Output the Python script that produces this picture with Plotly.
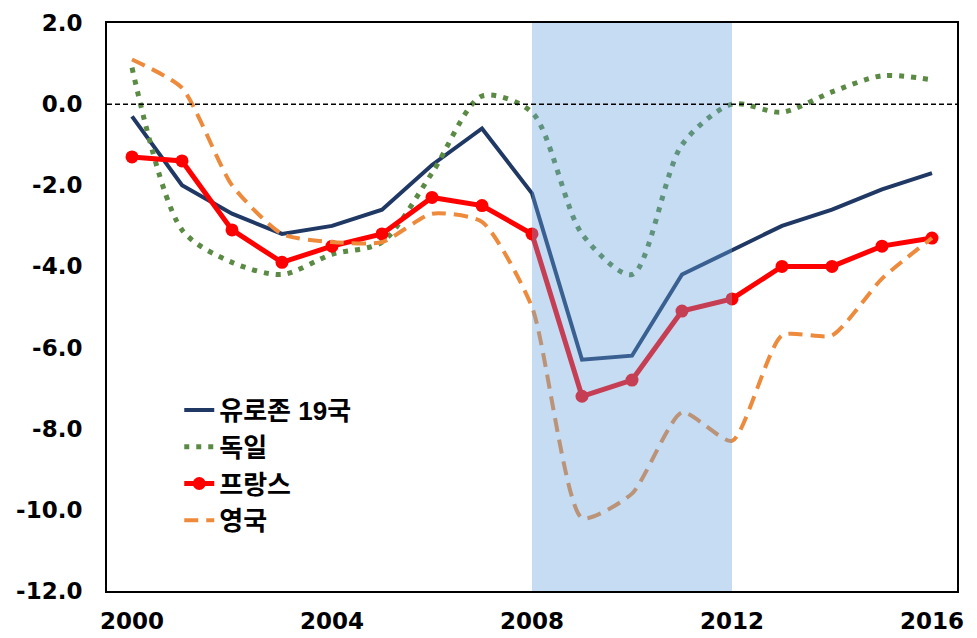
import plotly.graph_objects as go

# ── DATA ──────────────────────────────────────────────────────────────
years = list(range(2000, 2017))

eurozone = [-0.3, -2.0, -2.7, -3.2, -3.0, -2.6, -1.5, -0.6, -2.2,
            -6.3, -6.2, -4.2, -3.6, -3.0, -2.6, -2.1, -1.7]
germany = [0.9, -3.1, -3.9, -4.2, -3.7, -3.4, -1.7, 0.2, -0.2,
           -3.2, -4.2, -1.0, 0.0, -0.2, 0.3, 0.7, 0.6]
france = [-1.3, -1.4, -3.1, -3.9, -3.5, -3.2, -2.3, -2.5, -3.2,
          -7.2, -6.8, -5.1, -4.8, -4.0, -4.0, -3.5, -3.3]
uk = [1.1, 0.4, -2.0, -3.2, -3.4, -3.4, -2.7, -2.9, -5.0,
      -10.2, -9.6, -7.6, -8.3, -5.7, -5.7, -4.3, -3.3]

x_ticks = [2000, 2004, 2008, 2012, 2016]
y_ticks = [2, 0, -2, -4, -6, -8, -10, -12]
y_ticktext = ["2.0", "0.0", "-2.0", "-4.0", "-6.0", "-8.0", "-10.0", "-12.0"]
crisis = (2008, 2012)

# ── COLORS ────────────────────────────────────────────────────────────
COLORS = {
    "euro":    "#1f3864",
    "germany": "#5b8a45",
    "france":  "#ff0000",
    "uk":      "#ee8a3c",
    "shade":   "#67a3dd",
}

TICK_FONT = "'DejaVu Sans', 'Noto Sans CJK KR', sans-serif"
FONT = "Arial, 'Liberation Sans', 'Noto Sans CJK KR', sans-serif"

fig = go.Figure()

fig.add_trace(go.Scatter(
    x=years, y=eurozone, name="유로존 19국", mode="lines",
    line=dict(color=COLORS["euro"], width=4), legendgroup="a",
))
fig.add_trace(go.Scatter(
    x=years, y=germany, name="독일", mode="lines",
    line=dict(color=COLORS["germany"], width=5, dash="5px,7px", shape="spline", smoothing=0.8),
    legendgroup="b",
))
fig.add_trace(go.Scatter(
    x=years, y=france, name="프랑스", mode="lines+markers",
    line=dict(color=COLORS["france"], width=5),
    marker=dict(color=COLORS["france"], size=13),
    legendgroup="c",
))
fig.add_trace(go.Scatter(
    x=years, y=uk, name="영국", mode="lines",
    line=dict(color=COLORS["uk"], width=4, dash="14px,8px", shape="spline", smoothing=0.6),
    legendgroup="d",
))

# crisis shading sits above the lines, semi-transparent
fig.add_shape(
    type="rect", xref="x", yref="paper",
    x0=crisis[0], x1=crisis[1], y0=0, y1=1,
    fillcolor=COLORS["shade"], opacity=0.38, line_width=0, layer="above",
)
fig.add_shape(
    type="line", xref="paper", yref="y", x0=0, x1=1, y0=0, y1=0,
    line=dict(color="black", width=1.5, dash="5px,3px"), layer="above",
)

fig.update_xaxes(
    range=[1999.5, 2016.5], tickvals=x_ticks,
    tickfont=dict(size=23, family=TICK_FONT, color="black", weight="bold"),
    showgrid=False, zeroline=False, showline=True, linecolor="black",
    linewidth=2, mirror=True, ticks="", automargin=False, ticklabelstandoff=8,
)
fig.update_yaxes(
    range=[-12, 2], tickvals=y_ticks, ticktext=y_ticktext,
    tickfont=dict(size=23, family=TICK_FONT, color="black", weight="bold"),
    showgrid=False, zeroline=False, showline=True, linecolor="black",
    linewidth=2, mirror=True, ticks="", automargin=False, ticklabelstandoff=18,
)

# page body has an 8px margin, so the figure is drawn 8px smaller
fig.update_layout(
    width=969, height=630,
    margin=dict(l=99, r=20, t=15, b=47),
    plot_bgcolor="white", paper_bgcolor="white",
    font=dict(family=FONT, color="black"),
    legend=dict(
        x=0.085, y=0.36, xanchor="left", yanchor="top",
        font=dict(size=26, family=FONT, color="black", weight="bold"),
        bgcolor="rgba(0,0,0,0)", tracegroupgap=0,
    ),
)

fig.write_html("out.html")
